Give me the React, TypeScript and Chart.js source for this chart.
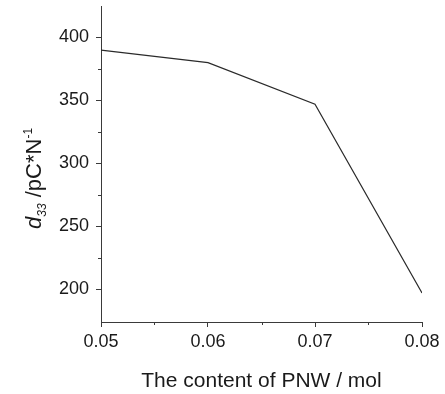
import React, { useEffect, useRef } from "react";
import { Chart, registerables } from "chart.js";

Chart.register(...registerables);

const contents = [0.05, 0.06, 0.07, 0.08];
const d33Values = [390, 380, 347, 197];
const xMajorTicks = [0.05, 0.06, 0.07, 0.08];
const xMinorTicks = [0.055, 0.065, 0.075];
const yMajorTicks = [200, 250, 300, 350, 400];
const yMinorTicks = [225, 275, 325, 375];
const xTitle = "The content of PNW / mol";

const AXIS_COLOR = "#3a3a3a";
const TEXT_COLOR = "#1a1a1a";
const FONT = "'Liberation Sans', Arial, sans-serif";

const decorPlugin = {
  id: "decor",
  afterDraw(chart: any) {
    const ctx = chart.ctx;
    const xs = chart.scales.x;
    const ys = chart.scales.y;
    const area = chart.chartArea;
    ctx.save();
    // minor ticks
    ctx.strokeStyle = AXIS_COLOR;
    ctx.lineWidth = 1;
    ctx.beginPath();
    for (const v of xMinorTicks) {
      const px = Math.round(xs.getPixelForValue(v)) + 0.5;
      ctx.moveTo(px, area.bottom);
      ctx.lineTo(px, area.bottom + 3);
    }
    for (const v of yMinorTicks) {
      const py = Math.round(ys.getPixelForValue(v)) + 0.5;
      ctx.moveTo(area.left, py);
      ctx.lineTo(area.left - 3, py);
    }
    ctx.stroke();

    // x title
    ctx.fillStyle = TEXT_COLOR;
    ctx.font = `21px ${FONT}`;
    ctx.textAlign = "center";
    ctx.textBaseline = "alphabetic";
    ctx.fillText(xTitle, (area.left + area.right) / 2, 387);

    // y title (rich text, rotated)
    ctx.translate(40.5, 229);
    ctx.rotate(-Math.PI / 2);
    ctx.textAlign = "left";
    let x = 0;
    ctx.font = `italic 22px ${FONT}`;
    ctx.fillText("d", x, 0);
    x += ctx.measureText("d").width;
    ctx.font = `italic 12px ${FONT}`;
    ctx.fillText("33", x, 5);
    x += ctx.measureText("33").width;
    ctx.font = `22px ${FONT}`;
    ctx.fillText(" /pC*N", x, 0);
    x += ctx.measureText(" /pC*N").width;
    ctx.font = `12px ${FONT}`;
    ctx.fillText("-1", x, -9);
    ctx.restore();
  },
};

export default function App() {
  const ref = useRef<HTMLCanvasElement | null>(null);
  useEffect(() => {
    document.body.style.margin = "0";
    const canvas = ref.current!;
    const chart = new Chart(canvas, {
      type: "line",
      data: {
        datasets: [
          {
            data: contents.map((c, i) => ({ x: c, y: d33Values[i] })),
            borderColor: "#2a2a2a",
            borderWidth: 1.2,
            pointRadius: 0,
            tension: 0,
            fill: false,
          },
        ],
      },
      options: {
        responsive: false,
        animation: false,
        devicePixelRatio: 1,
        layout: { padding: { top: 6, right: 23, left: 0, bottom: 0 } },
        plugins: { legend: { display: false }, tooltip: { enabled: false } },
        scales: {
          x: {
            type: "linear",
            min: 0.05,
            max: 0.08,
            afterBuildTicks: (s: any) => {
              s.ticks = xMajorTicks.map((v) => ({ value: v }));
            },
            afterFit: (s: any) => {
              s.height = 72;
              s.paddingLeft = 0;
              s.paddingRight = 0;
            },
            ticks: {
              color: TEXT_COLOR,
              font: { family: FONT, size: 18 },
              padding: 4,
              maxRotation: 0,
              autoSkip: false,
              callback: (v: any) => Number(v).toFixed(2),
            },
            grid: {
              drawOnChartArea: false,
              drawTicks: true,
              tickLength: 5,
              color: AXIS_COLOR,
            },
            border: { display: true, color: AXIS_COLOR, width: 1 },
          },
          y: {
            type: "linear",
            min: 174,
            max: 425,
            afterBuildTicks: (s: any) => {
              s.ticks = yMajorTicks.map((v) => ({ value: v }));
            },
            afterFit: (s: any) => {
              s.width = 101;
              s.paddingTop = 0;
              s.paddingBottom = 0;
            },
            ticks: {
              color: TEXT_COLOR,
              font: { family: FONT, size: 18 },
              padding: 7,
              autoSkip: false,
              callback: (v: any) => String(v),
            },
            grid: {
              drawOnChartArea: false,
              drawTicks: true,
              tickLength: 5,
              color: AXIS_COLOR,
            },
            border: { display: true, color: AXIS_COLOR, width: 1 },
          },
        },
      },
      plugins: [decorPlugin],
    });
    return () => chart.destroy();
  }, []);
  return (
    <div style={{ position: "absolute", left: 0, top: 0, width: 445, height: 394, background: "#fff" }}>
      <canvas ref={ref} width={445} height={394} />
    </div>
  );
}
